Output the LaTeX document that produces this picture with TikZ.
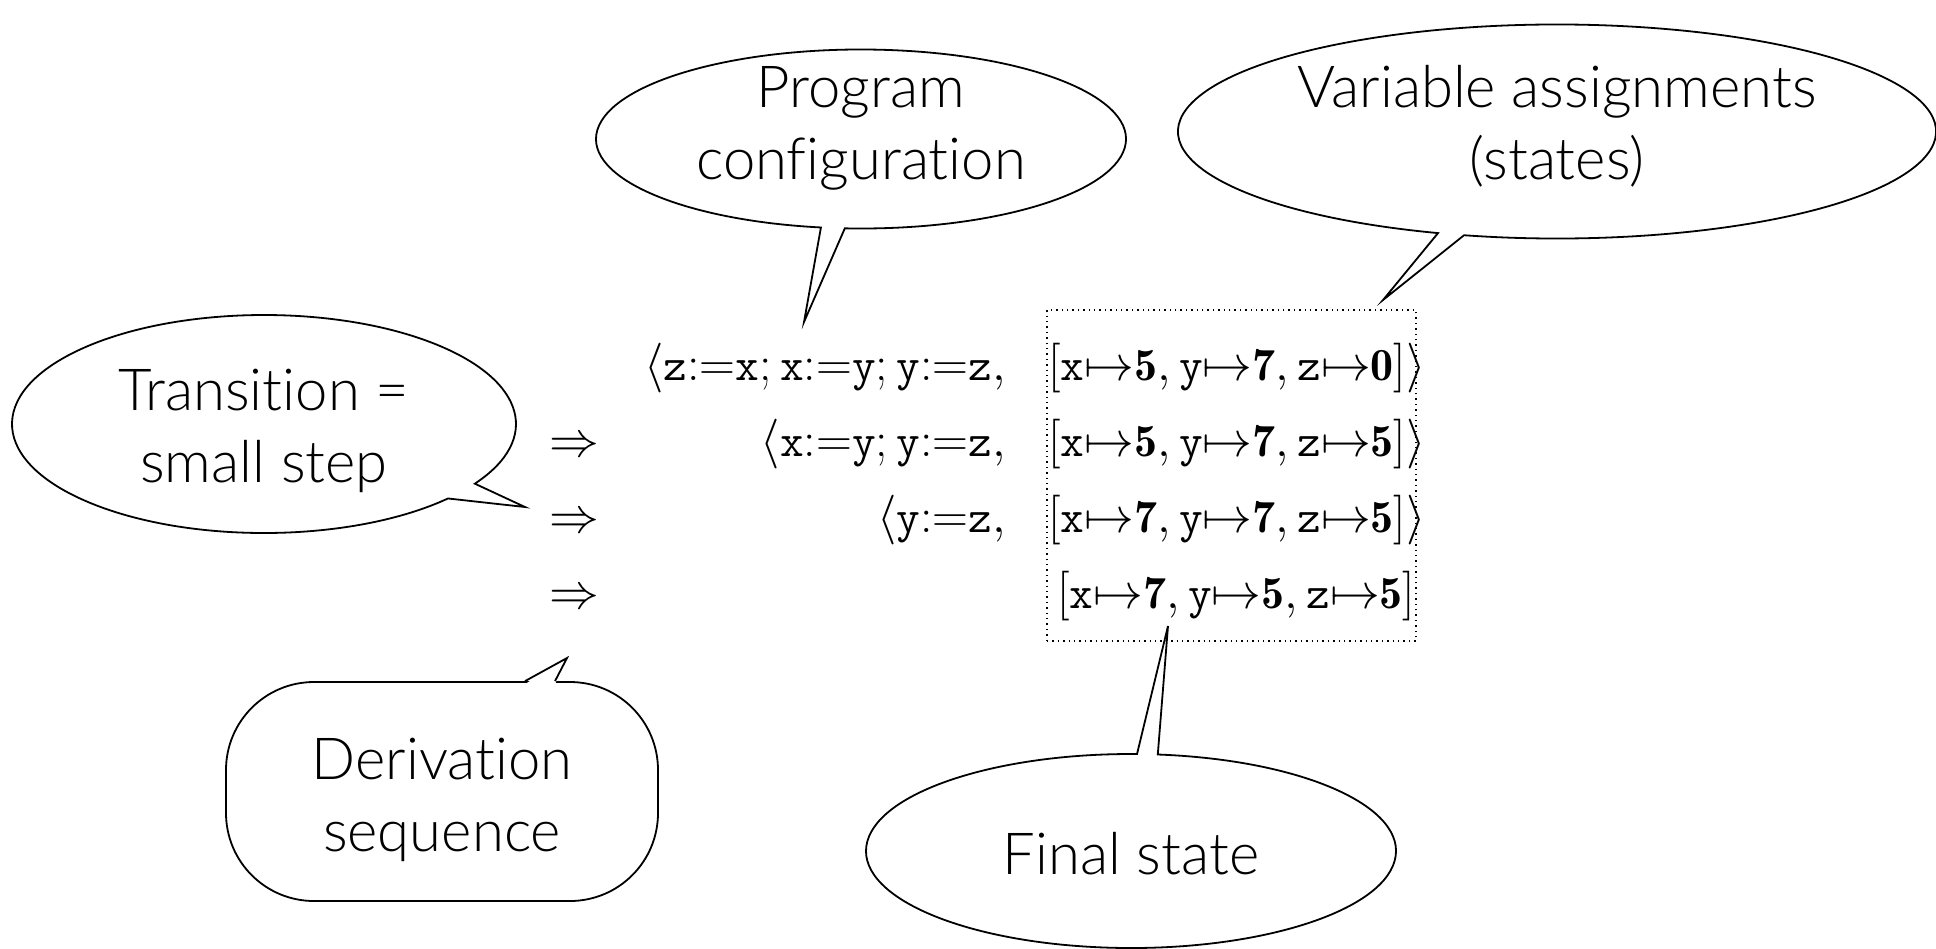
\documentclass[tikz,border=0pt]{standalone}
\usetikzlibrary{calc}
\usepackage{fontspec}
\newfontfamily\gill{Lato Light}[Ligatures={NoCommon}]
\newcommand{\tv}[1]{\mathtt{#1}}
\newcommand{\mt}{{\mapsto}}
\newcommand{\asn}{{:=}}
\begin{document}
\begin{tikzpicture}[x=0.5pt,y=-0.5pt,
  balloon/.style={draw=black, fill=white, line width=0.9pt, line join=miter},
  tailline/.style={draw=black, line width=0.9pt, line join=miter},
  lbl/.style={font=\gill\fontsize{29}{36}\selectfont, align=center, inner sep=0pt},
  row/.style={font=\fontsize{23}{28}\selectfont, inner sep=0pt},
  statebox/.style={draw, dotted, line width=0.7pt, inner sep=0pt}
]
\useasboundingbox (0,0) rectangle (1936,948);

% ---- balloon centres and tips
\coordinate (progc) at (861,139);
\coordinate (progtip) at (804,322);
\coordinate (varc) at (1557,131.5);
\coordinate (vartip) at (1383,300);
\coordinate (transc) at (264,424);
\coordinate (transtip) at (525,507);
\coordinate (finalc) at (1131,851);
\coordinate (finaltip) at (1168,626);
\coordinate (derivtip) at (567,658);

% ---- elliptic balloons
\draw[balloon] (progc) ++(98.7:265 and 89.5)
  arc[start angle=98.7, end angle=453.5, x radius=265, y radius=89.5] -- (progtip) -- cycle;
\draw[balloon] (varc) ++(108.3:379 and 107)
  arc[start angle=108.3, end angle=464.2, x radius=379, y radius=107] -- (vartip) -- cycle;
\draw[balloon] (transc) ++(43.1:252 and 109)
  arc[start angle=43.1, end angle=393.2, x radius=252, y radius=109] -- (transtip) -- cycle;
\draw[balloon] (finalc) ++(275.8:265 and 97)
  arc[start angle=275.8, end angle=631.3, x radius=265, y radius=97] -- (finaltip) -- cycle;

% ---- rounded balloon
\node[balloon, rounded corners=44pt, minimum width=216pt, minimum height=109.5pt, inner sep=0pt]
  (deriv) at (442,791.5) {};
\fill[white] ($(deriv.north)+(83,3)$) -- (derivtip) -- ($(deriv.north)+(113,3)$) -- cycle;
\draw[tailline] ($(deriv.north)+(83,0)$) -- (derivtip) -- ($(deriv.north)+(113,0)$);

% ---- labels
\node[lbl] (progl) at (861,128) {Program\\configuration};
\node[lbl] (varl) at (1557,126) {Variable assignments\\(states)};
\node[lbl] (transl) at (264,431) {Transition =\\small step};
\node[lbl] (derivl) at (442,800) {Derivation\\sequence};
\node[lbl, anchor=base] (finall) at (1131,874) {Final state};

% ---- states box
\node[statebox, minimum width=184.5pt, minimum height=165.5pt] (states) at (1231.5,475.5) {};

% ---- derivation rows
\node[row, anchor=base east] (p1) at (1006,380)
  {$\langle\tv{z}\asn\tv{x};\tv{x}\asn\tv{y};\tv{y}\asn\tv{z},$};
\node[row, anchor=base west] (s1) at (1048,380)
  {$[\tv{x}\mt\mathbf{5},\tv{y}\mt\mathbf{7},\tv{z}\mt\mathbf{0}]\rangle$};

\node[row, anchor=base] (a2) at (574,456) {$\Rightarrow$};
\node[row, anchor=base east] (p2) at (1006,456)
  {$\langle\tv{x}\asn\tv{y};\tv{y}\asn\tv{z},$};
\node[row, anchor=base west] (s2) at (1048,456)
  {$[\tv{x}\mt\mathbf{5},\tv{y}\mt\mathbf{7},\tv{z}\mt\mathbf{5}]\rangle$};

\node[row, anchor=base] (a3) at (574,532) {$\Rightarrow$};
\node[row, anchor=base east] (p3) at (1006,532)
  {$\langle\tv{y}\asn\tv{z},$};
\node[row, anchor=base west] (s3) at (1048,532)
  {$[\tv{x}\mt\mathbf{7},\tv{y}\mt\mathbf{7},\tv{z}\mt\mathbf{5}]\rangle$};

\node[row, anchor=base] (a4) at (574,608) {$\Rightarrow$};
\node[row, anchor=base west] (s4) at (1057,608)
  {$[\tv{x}\mt\mathbf{7},\tv{y}\mt\mathbf{5},\tv{z}\mt\mathbf{5}]$};
\end{tikzpicture}
\end{document}
